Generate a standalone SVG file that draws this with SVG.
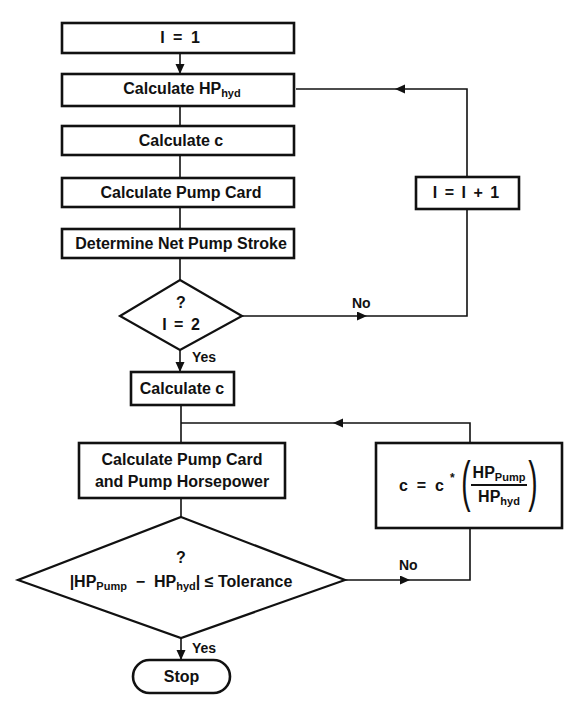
<svg xmlns="http://www.w3.org/2000/svg" width="569" height="717" viewBox="0 0 569 717">
<style>
  .box { fill: #fff; stroke: #111; stroke-width: 2.6; }
  .dia { fill: #fff; stroke: #111; stroke-width: 2.2; }
  .ln { fill: none; stroke: #111; stroke-width: 1.6; }
  text { font-family: "Liberation Sans", Arial, sans-serif; font-weight: bold; fill: #111; }
  .t { font-size: 16px; text-anchor: middle; }
  .lbl { font-size: 14px; }
  .sub { font-size: 11px; }
  .par { font-family: "Liberation Sans", Arial, sans-serif; font-weight: normal; font-size: 28px; text-anchor: middle; }
</style>
<defs>
  <marker id="ah" markerUnits="userSpaceOnUse" markerWidth="11" markerHeight="10" refX="10" refY="4.5" orient="auto">
    <path d="M0,0 L10,4.5 L0,9 z" fill="#111"/>
  </marker>
</defs>
<rect width="569" height="717" fill="#fff"/>

<g id="connectors">
  <path class="ln" d="M180,53 V74" marker-end="url(#ah)"/>
  <path class="ln" d="M180,106 V126"/>
  <path class="ln" d="M180,155 V178"/>
  <path class="ln" d="M180,207 V229"/>
  <path class="ln" d="M180,258 V280"/>
  <path class="ln" d="M242,316 H367" marker-end="url(#ah)"/>
  <path class="ln" d="M367,316 H467 V209"/>
  <path class="ln" d="M467,177 V89 H395" marker-end="url(#ah)"/>
  <path class="ln" d="M395,89 H296"/>
  <path class="ln" d="M180,350 V372" marker-end="url(#ah)"/>
  <path class="ln" d="M181,405 V443"/>
  <path class="ln" d="M470,443 V423 H333" marker-end="url(#ah)"/>
  <path class="ln" d="M333,423 H181"/>
  <path class="ln" d="M181,498 V517"/>
  <path class="ln" d="M345,580 H410" marker-end="url(#ah)"/>
  <path class="ln" d="M410,580 H470 V528"/>
  <path class="ln" d="M181,638 V660" marker-end="url(#ah)"/>
  <text class="lbl" x="352" y="308">No</text>
  <text class="lbl" x="192" y="362">Yes</text>
  <text class="lbl" x="399" y="570">No</text>
  <text class="lbl" x="192" y="653">Yes</text>
</g>

<g id="n_i1">
  <rect class="box" x="62" y="23" width="232" height="30"/>
  <text class="t" x="180" y="43" word-spacing="4">I = 1</text>
</g>
<g id="n_hphyd">
  <rect class="box" x="62" y="74" width="232" height="32"/>
  <text class="t" x="182" y="94">Calculate HP<tspan class="sub" dy="3">hyd</tspan></text>
</g>
<g id="n_calc_c1">
  <rect class="box" x="62" y="126" width="232" height="29"/>
  <text class="t" x="181" y="146">Calculate c</text>
</g>
<g id="n_pumpcard">
  <rect class="box" x="62" y="178" width="232" height="29"/>
  <text class="t" x="181" y="198">Calculate Pump Card</text>
</g>
<g id="n_netstroke">
  <rect class="box" x="62" y="229" width="232" height="29"/>
  <text class="t" x="181" y="249">Determine Net Pump Stroke</text>
</g>
<g id="n_i2">
  <polygon class="dia" points="180,280 242,316 180,350 120,316"/>
  <text class="t" x="181" y="308">?</text>
  <text class="t" x="181" y="330" word-spacing="3">I = 2</text>
</g>
<g id="n_inc">
  <rect class="box" x="416" y="177" width="103" height="32"/>
  <text class="t" x="466" y="198" word-spacing="3">I = I + 1</text>
</g>
<g id="n_calc_c2">
  <rect class="box" x="131" y="372" width="103" height="33"/>
  <text class="t" x="182" y="394">Calculate c</text>
</g>
<g id="n_pumphp">
  <rect class="box" x="79" y="443" width="206" height="55"/>
  <text class="t" x="182" y="465">Calculate Pump Card</text>
  <text class="t" x="182" y="487">and Pump Horsepower</text>
</g>
<g id="n_tol">
  <polygon class="dia" points="181,517 345,580 181,638 18,580"/>
  <text class="t" x="181" y="563">?</text>
  <text class="t" x="181" y="587" xml:space="preserve">|HP<tspan class="sub" dy="3">Pump</tspan><tspan dy="-3">  −  HP</tspan><tspan class="sub" dy="3">hyd</tspan><tspan dy="-3">| ≤ Tolerance</tspan></text>
</g>
<g id="n_update">
  <rect class="box" x="376" y="443" width="186" height="85"/>
  <text x="399" y="491" font-size="16" xml:space="preserve">c  =  c</text>
  <text x="450" y="482" font-size="12">*</text>
  <text class="par" transform="translate(466,500) scale(1,2)">(</text>
  <text class="par" transform="translate(533,500) scale(1,2)">)</text>
  <text class="t" x="499" y="478">HP<tspan class="sub" dy="3">Pump</tspan></text>
  <line x1="471" y1="485" x2="527" y2="485" stroke="#111" stroke-width="2"/>
  <text class="t" x="499" y="502">HP<tspan class="sub" dy="3">hyd</tspan></text>
</g>
<g id="n_stop">
  <rect class="box" x="133" y="660" width="97" height="33" rx="16.5"/>
  <text class="t" x="181.5" y="682">Stop</text>
</g>
</svg>
